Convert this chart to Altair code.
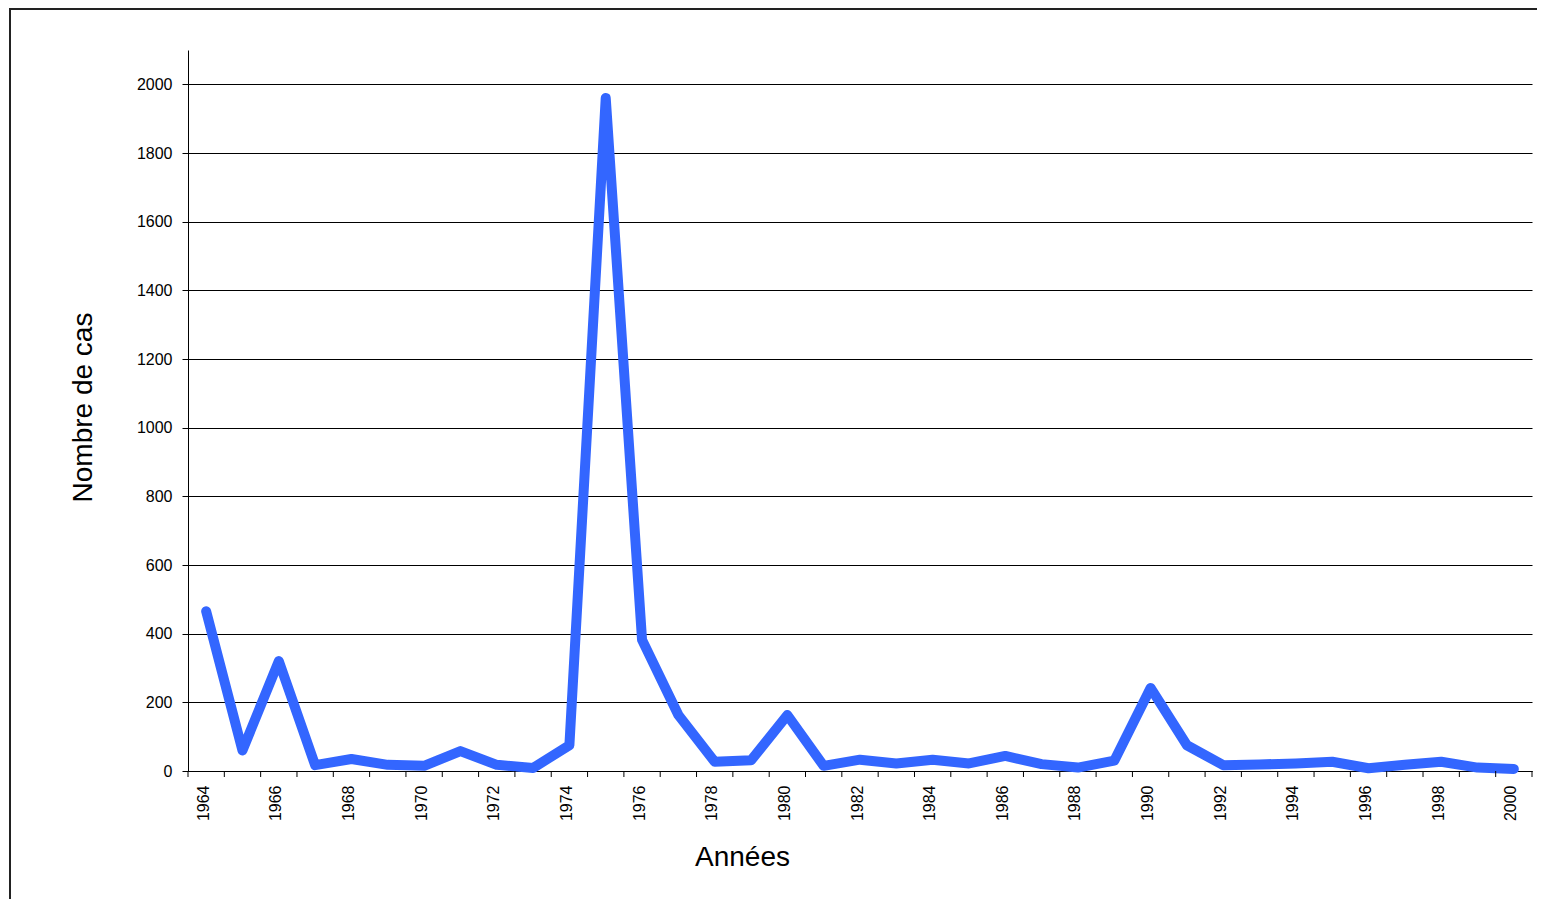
import altair as alt
import pandas as pd

years = list(range(1964, 2001))
cases = [465, 60, 320, 17, 35, 18, 15, 58, 18, 9, 75, 1960, 382, 163, 27, 31,
         163, 15, 33, 22, 33, 22, 44, 20, 10, 30, 242, 75, 17, 19, 22, 27, 8,
         18, 27, 10, 6]
y_ticks = list(range(0, 2001, 200))
x_boundaries = [1963.5 + i for i in range(38)]
x_label_years = list(range(1964, 2001, 2))

df = pd.DataFrame({"Année": years, "Cas": cases})
df_ticks = pd.DataFrame({"Année": x_boundaries})
FONT = "Liberation Sans"

x_scale = alt.Scale(domain=[1963.5, 2000.5], nice=False, zero=False)
x_axis = alt.Axis(
    title="Années",
    values=x_label_years,
    format="d",
    ticks=False,
    labelAngle=270,
    labelAlign="right",
    labelBaseline="middle",
    labelOffset=-3,
    labelPadding=14,
    labelOverlap=False,
    labelFlush=False,
    labelBound=False,
    grid=False,
    titleX=554,
    titleY=86,
    titleAlign="center",
    titleBaseline="middle",
)

line = alt.Chart(df).mark_line(
    color="#3366FF", strokeWidth=10, strokeCap="round", strokeJoin="round"
).encode(
    x=alt.X("Année:Q", scale=x_scale, axis=x_axis),
    y=alt.Y(
        "Cas:Q",
        scale=alt.Scale(domain=[0, 2100], nice=False),
        axis=alt.Axis(
            title="Nombre de cas",
            values=y_ticks,
            format="d",
            grid=True,
            gridColor="#000000",
            gridWidth=1,
            tickSize=6,
            labelPadding=10,
            titleX=-105,
            titleY=357,
            titleAngle=270,
            titleAlign="center",
            titleBaseline="middle",
        ),
    ),
)

# category boundary ticks below the x axis (Excel style)
boundary_ticks = alt.Chart(df_ticks).mark_rule(color="#000000", strokeWidth=1).encode(
    x=alt.X("Année:Q", scale=x_scale, axis=x_axis),
    y=alt.value(721),
    y2=alt.value(727),
)

frame_data = pd.DataFrame({"k": [0]})
frame_left = alt.Chart(frame_data).mark_rule(color="#222222", strokeWidth=2).encode(
    x=alt.value(-178), y=alt.value(-41), y2=alt.value(900)
)
frame_top = alt.Chart(frame_data).mark_rule(color="#222222", strokeWidth=2).encode(
    x=alt.value(-179), x2=alt.value(1400), y=alt.value(-41)
)

chart = alt.layer(line, boundary_ticks, frame_left, frame_top).properties(
    width=1344,
    height=721,
    autosize=alt.AutoSizeParams(type="none"),
    padding={"left": 180, "top": 42, "right": 5, "bottom": 128},
).configure_view(stroke=None).configure_axis(
    domainColor="#000000",
    tickColor="#000000",
    labelColor="#000000",
    titleColor="#000000",
    labelFont=FONT,
    titleFont=FONT,
    labelFontSize=16,
    titleFontSize=28,
    titleFontWeight="normal",
)

chart.save("out.html", embed_options={"renderer": "svg", "actions": False})
